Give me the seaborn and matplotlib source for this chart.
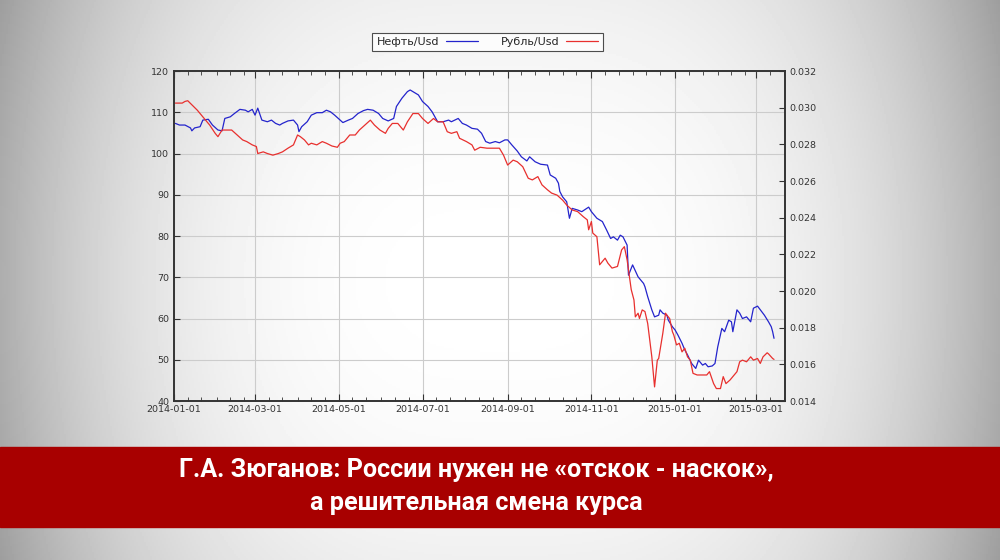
import numpy as np
import pandas as pd
import matplotlib
matplotlib.use('Agg')
import matplotlib.pyplot as plt
import matplotlib.dates as mdates
from matplotlib.patches import Rectangle
import seaborn as sns

# days counted from 2014-01-01
start = pd.Timestamp('2014-01-01')

neft_days = [1, 4, 8, 12, 13, 15, 19, 21, 25, 28,
             32, 35, 37, 41, 44, 48, 52, 54, 57, 59,
             61, 64, 68, 71, 74, 77, 79, 83, 87, 90,
             91, 93, 97, 100, 104, 108, 111, 114, 117, 121,
             123, 127, 130, 134, 138, 141, 145, 149, 152, 156,
             160, 162, 166, 170, 172, 174, 178, 181, 185, 188,
             190, 192, 196, 200, 202, 207, 210, 213, 217, 221,
             224, 227, 230, 234, 237, 241, 243, 246, 250, 253,
             257, 259, 263, 267, 272, 274, 278, 280, 281, 283,
             286, 288, 290, 294, 297, 302, 304, 308, 312, 315,
             318, 320, 323, 325, 327, 330, 331, 334, 338, 342,
             343, 345, 348, 350, 353, 354, 356, 359, 360, 363,
             365, 367, 370, 372, 374, 377, 380, 382, 385, 387,
             389, 392, 394, 396, 399, 401, 404, 406, 407, 410,
             412, 414, 417, 420, 421, 422, 425, 428, 430, 433,
             435, 436, 437]
neft_usd = [107.3, 106.9, 106.9, 106.2, 105.5, 106.2, 106.5, 108.1, 108.3, 106.9,
            105.7, 105.5, 108.5, 108.9, 109.7, 110.7, 110.5, 110.1, 110.7, 109.3,
            111.0, 108.1, 107.7, 108.1, 107.3, 106.9, 107.3, 107.9, 108.1, 106.9,
            105.3, 106.5, 107.7, 109.3, 109.9, 109.9, 110.5, 110.1, 109.3, 108.1,
            107.5, 108.1, 108.5, 109.7, 110.4, 110.7, 110.5, 109.7, 108.5, 107.9,
            108.5, 111.4, 113.4, 115.0, 115.4, 115.0, 114.2, 112.6, 111.4, 110.1,
            108.9, 107.7, 107.7, 108.1, 107.7, 108.5, 107.3, 106.9, 106.1, 105.9,
            104.9, 102.9, 102.5, 102.9, 102.6, 103.3, 103.3, 102.1, 100.6, 99.2,
            98.2, 99.2, 98.0, 97.4, 97.2, 94.8, 94.0, 92.8, 90.8, 89.5,
            88.3, 84.3, 86.7, 86.3, 85.9, 87.0, 85.9, 84.3, 83.5, 81.5,
            79.4, 79.8, 79.0, 80.2, 79.8, 77.8, 70.5, 73.0, 70.1, 68.5,
            67.7, 65.3, 62.1, 60.4, 60.8, 62.1, 61.3, 60.8, 59.6, 58.0,
            57.2, 56.0, 54.0, 52.4, 51.2, 49.1, 47.9, 49.9, 48.7, 49.1,
            48.3, 48.5, 49.1, 53.1, 57.6, 56.8, 59.6, 59.2, 56.8, 62.1,
            61.3, 60.0, 60.4, 59.2, 60.8, 62.5, 63.0, 61.7, 60.8, 59.2,
            58.0, 56.8, 55.2]

rubl_days = [1, 6, 8, 10, 13, 17, 20, 23, 26, 30,
             32, 35, 39, 42, 46, 50, 53, 57, 60, 61,
             65, 68, 72, 76, 79, 83, 87, 90, 92, 95,
             98, 100, 104, 108, 111, 115, 119, 121, 124, 128,
             132, 135, 139, 143, 146, 150, 154, 156, 159, 163,
             167, 170, 174, 178, 181, 185, 189, 192, 196, 199,
             202, 206, 208, 213, 217, 219, 223, 228, 232, 237,
             240, 243, 247, 250, 254, 258, 261, 265, 268, 272,
             275, 279, 283, 286, 290, 294, 298, 301, 302, 304,
             305, 308, 310, 314, 316, 319, 323, 326, 328, 330,
             333, 335, 336, 338, 339, 341, 343, 345, 348, 350,
             352, 353, 356, 358, 359, 361, 363, 364, 366, 368,
             370, 372, 374, 376, 378, 381, 385, 388, 390, 393,
             395, 398, 400, 402, 405, 407, 410, 412, 414, 417,
             420, 422, 425, 427, 429, 432, 433, 436, 437]
rubl_usd = [0.03025, 0.03025, 0.03034, 0.03038, 0.03016, 0.02986, 0.02959, 0.02932, 0.02905, 0.02860,
            0.02842, 0.02878, 0.02878, 0.02878, 0.02851, 0.02824, 0.02815, 0.02797, 0.02788, 0.02750,
            0.02759, 0.02750, 0.02741, 0.02750, 0.02759, 0.02779, 0.02797, 0.02851, 0.02842, 0.02824,
            0.02797, 0.02806, 0.02797, 0.02815, 0.02806, 0.02791, 0.02784, 0.02806, 0.02815, 0.02851,
            0.02851, 0.02878, 0.02905, 0.02932, 0.02905, 0.02878, 0.02860, 0.02887, 0.02914, 0.02914,
            0.02878, 0.02923, 0.02968, 0.02968, 0.02941, 0.02914, 0.02941, 0.02923, 0.02923, 0.02869,
            0.02860, 0.02869, 0.02833, 0.02815, 0.02797, 0.02768, 0.02784, 0.02779, 0.02779, 0.02779,
            0.02741, 0.02687, 0.02714, 0.02705, 0.02678, 0.02615, 0.02606, 0.02624, 0.02579, 0.02552,
            0.02534, 0.02523, 0.02496, 0.02469, 0.02442, 0.02433, 0.02406, 0.02388, 0.02334, 0.02379,
            0.02316, 0.02296, 0.02143, 0.02179, 0.02152, 0.02125, 0.02134, 0.02224, 0.02242, 0.02170,
            0.02008, 0.01951, 0.01859, 0.01879, 0.01850, 0.01897, 0.01888, 0.01823, 0.01641, 0.01477,
            0.01623, 0.01632, 0.01769, 0.01879, 0.01868, 0.01850, 0.01778, 0.01760, 0.01706, 0.01715,
            0.01668, 0.01688, 0.01641, 0.01623, 0.01551, 0.01542, 0.01542, 0.01542, 0.01560, 0.01495,
            0.01468, 0.01468, 0.01533, 0.01495, 0.01515, 0.01533, 0.01560, 0.01614, 0.01623, 0.01614,
            0.01641, 0.01623, 0.01632, 0.01605, 0.01641, 0.01663, 0.01657, 0.01632, 0.01627]

labels = ['Нефть/Usd', 'Рубль/Usd']
title_lines = 'Г.А. Зюганов: России нужен не «отскок - наскок»,\nа решительная смена курса'

df_neft = pd.DataFrame({'date': start + pd.to_timedelta(neft_days, unit='D'), 'value': neft_usd})
df_rubl = pd.DataFrame({'date': start + pd.to_timedelta(rubl_days, unit='D'), 'value': rubl_usd})

sns.set_style('ticks')
plt.rcParams['font.family'] = ['DejaVu Sans']

fig = plt.figure(figsize=(10, 5.6), dpi=100)

# grey slide background, lighter in the middle
bg = fig.add_axes([0, 0, 1, 1], zorder=-10)
xx, yy = np.meshgrid(np.linspace(-1, 1, 500), np.linspace(-1, 1, 280))
shade = 1 - 0.32 * np.abs(xx) ** 3 - 0.06 * np.abs(yy) ** 2
bg.imshow(shade, cmap='gray', vmin=0, vmax=1, aspect='auto', extent=[0, 1, 0, 1])
bg.add_patch(Rectangle((0, 0.059), 1, 0.143, color='#a80000', transform=bg.transAxes))
bg.set_xlim(0, 1)
bg.set_ylim(0, 1)
bg.axis('off')
fig.text(0.476, 0.131, title_lines, ha='center', va='center', color='white', fontsize=18.1,
         fontweight='bold', linespacing=1.45, multialignment='center',
         family=['Liberation Sans Narrow', 'Roboto', 'DejaVu Sans'])

ax = fig.add_axes([0.174, 0.2839, 0.611, 0.5893])
ax.set_facecolor('none')
ax2 = ax.twinx()

sns.lineplot(data=df_neft, x='date', y='value', ax=ax, color='#2424cc', linewidth=0.9, label=labels[0], legend=False)
sns.lineplot(data=df_rubl, x='date', y='value', ax=ax2, color='#e8302e', linewidth=0.9, label=labels[1], legend=False)

ax.set_xlim(pd.Timestamp('2014-01-01'), pd.Timestamp('2015-03-22'))
ax.set_ylim(40, 120)
ax2.set_ylim(0.014, 0.032)
ax.set_yticks(range(40, 121, 10))
ax2.set_yticks(np.round(np.arange(0.014, 0.0321, 0.002), 3))
ax2.yaxis.set_major_formatter(matplotlib.ticker.FormatStrFormatter('%.3f'))
ax.xaxis.set_major_locator(mdates.MonthLocator(bymonth=[1, 3, 5, 7, 9, 11]))
ax.xaxis.set_minor_locator(mdates.DayLocator(bymonthday=[1, 11, 21]))
ax.xaxis.set_major_formatter(mdates.DateFormatter('%Y-%m-%d'))
for a in (ax, ax2):
    a.set_xlabel('')
    a.set_ylabel('')
    for s in a.spines.values():
        s.set_visible(True)
        s.set_color('#333333')
        s.set_linewidth(1.2)

ax.grid(True, which='major', color='#cccccc', linewidth=0.8)
ax.tick_params(axis='x', which='major', direction='in', top=True, length=5, labelsize=6.8, colors='#333333', pad=3)
ax.tick_params(axis='x', which='minor', direction='in', top=True, length=3, color='#333333')
ax.tick_params(axis='y', direction='in', length=4, labelsize=6.8, colors='#333333')
ax2.tick_params(axis='y', direction='in', length=4, labelsize=6.8, colors='#333333')

h1, l1 = ax.get_legend_handles_labels()
h2, l2 = ax2.get_legend_handles_labels()
leg = fig.legend(h1 + h2, l1 + l2, ncol=2, markerfirst=False, loc='center',
                 bbox_to_anchor=(0.4875, 0.925), frameon=True, fancybox=False,
                 edgecolor='#222222', fontsize=8, handlelength=2.9, handletextpad=0.6,
                 columnspacing=2.0, borderpad=0.4)
leg.get_frame().set_linewidth(0.8)

fig.savefig('out.png', dpi=100)
